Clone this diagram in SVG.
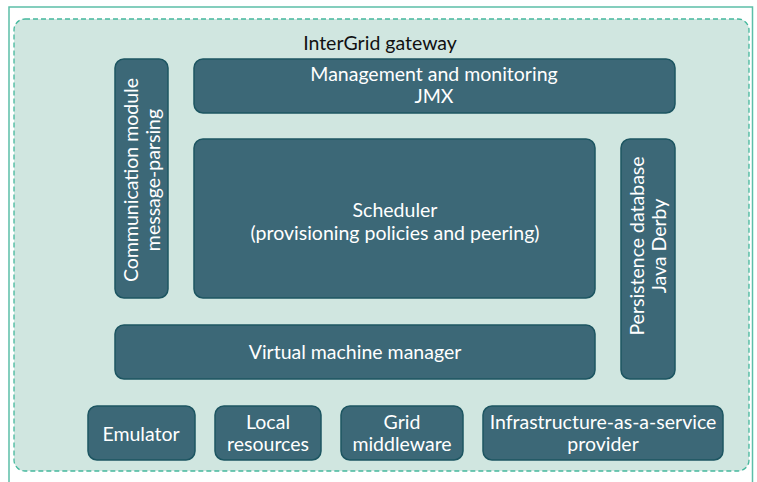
<svg xmlns="http://www.w3.org/2000/svg" width="757" height="482" viewBox="0 0 757 482">
<style>
.box{fill:#3c6877;stroke:#1c5561;stroke-width:1.5}
.t{fill:#ffffff;font-family:Lato,"Open Sans",sans-serif;font-size:19.5px;text-anchor:middle}
.title{fill:#111111;font-family:Lato,"Open Sans",sans-serif;font-size:19.5px;text-anchor:middle}
</style>
<rect width="757" height="482" fill="#ffffff"/>
<path d="M9,484 V7 H752.5 V484" fill="none" stroke="#5cbfa8" stroke-width="1.5"/>
<rect x="14" y="19" width="735" height="452" rx="11" fill="#d0e6e0" stroke="#45b89d" stroke-width="1.3" stroke-dasharray="5,3"/>
<text class="title" x="380" y="50">InterGrid gateway</text>
<g id="comm">
<rect class="box" x="115" y="59" width="53" height="239" rx="9"/>
<text class="t" transform="translate(138,180) rotate(-90)">Communication module</text>
<text class="t" transform="translate(160,180) rotate(-90)">message-parsing</text>
</g>
<g id="mgmt">
<rect class="box" x="194" y="59" width="481" height="54" rx="9"/>
<text class="t" x="434" y="81">Management and monitoring</text>
<text class="t" x="434" y="103">JMX</text>
</g>
<g id="sched">
<rect class="box" x="194" y="139" width="401" height="159" rx="9"/>
<text class="t" x="395" y="217">Scheduler</text>
<text class="t" x="395" y="240">(provisioning policies and peering)</text>
</g>
<g id="persist">
<rect class="box" x="621" y="139" width="54" height="240" rx="9"/>
<text class="t" transform="translate(644,246) rotate(-90)">Persistence database</text>
<text class="t" transform="translate(666,246) rotate(-90)">Java Derby</text>
</g>
<g id="vmm">
<rect class="box" x="115" y="325" width="480" height="54" rx="9"/>
<text class="t" x="355" y="359">Virtual machine manager</text>
</g>
<g id="emu">
<rect class="box" x="88" y="406" width="107" height="54" rx="9"/>
<text class="t" x="141" y="441">Emulator</text>
</g>
<g id="local">
<rect class="box" x="215" y="406" width="106" height="54" rx="9"/>
<text class="t" x="268" y="429">Local</text>
<text class="t" x="268" y="451">resources</text>
</g>
<g id="grid">
<rect class="box" x="341" y="406" width="122" height="54" rx="9"/>
<text class="t" x="402" y="429">Grid</text>
<text class="t" x="402" y="451">middleware</text>
</g>
<g id="iaas">
<rect class="box" x="483" y="406" width="240" height="54" rx="9"/>
<text class="t" x="603" y="429">Infrastructure-as-a-service</text>
<text class="t" x="603" y="451">provider</text>
</g>
<g id="connectors"></g>
</svg>
